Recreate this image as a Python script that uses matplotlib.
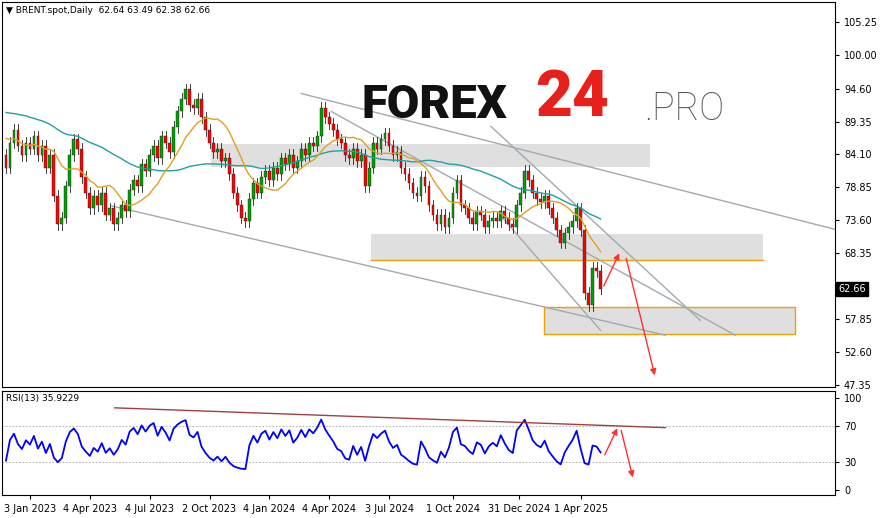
import numpy as np, pandas as pd
import matplotlib
matplotlib.use("Agg")
import matplotlib.pyplot as plt
from matplotlib.patches import Rectangle

prior_closes = [96,95,94,93,95,97,96,94,92,93,91,90,92,94,93,91,89,88,90,92,
 93,91,90,92,94,95,93,91,89,88,87,89,90,88,86,85,87,88,86,84]
closes = [82,86,88,85.5,84,86, 85,87,84,85.5,82,84, 77.5,73,74,79,84,86.5,
 85,80.5,78,75.5,77.5,76, 78,74.5,75.5,73,74,76, 75,78.5,80,79,82.5,81.5,
 84,85.5,83.5,87,86,84.5, 88.5,91,93,94.5,92,91.5, 93,90,88,86,84.5,85,
 83,83.5,81,78,76,74, 73.5,77,79.5,78,80.5,81.5, 80,82,81,83.5,82.5,84,
 82,83,85,84,86,85.5, 87,91.5,90,89,88,86.5, 86,84,83.5,85,83,84,
 79,82,86,85,86.5,87.5, 85.5,84,84.5,82,81,79.5, 78,77.5,80.5,79,76,74.5,
 73,74.5,72.5,74,78,80, 76,75.5,74,73,75,74.5, 72.5,73.5,74,73.5,75,74,
 73,72.5,76,78,81.5,80, 78,77,76.5,77.5,75.5,74, 72,70,71.5,72.5,73.5,75.5,
 72,62,60,66,65.5,62.66]
date_labels = ["3 Jan 2023","4 Apr 2023","4 Jul 2023","2 Oct 2023","4 Jan 2024",
 "4 Apr 2024","3 Jul 2024","1 Oct 2024","31 Dec 2024","1 Apr 2025"]
date_pos = [28,88,148,208,268,328,388,452,518,580]
price_ticks = [105.25,100.00,94.60,89.35,84.10,78.85,73.60,68.35,57.85,52.60,47.35]
last_price = 62.66
zones = [(210,650,82.1,85.7),(370,763,67.3,71.4),(543,795,55.4,59.7)]

def py(y): return 105.25-(y-20)/6.3
def ry(y): return 100-(y-397)/0.93

n0 = len(prior_closes)
x = np.arange(len(closes))*4+4
c = np.array(closes)
o = np.r_[prior_closes[-1], c[:-1]]
hi = np.maximum(o,c)+0.9; lo = np.minimum(o,c)-0.9
full = pd.Series(prior_closes+closes)
ma50 = full.rolling(12).mean().iloc[n0:].values
ma200 = full.rolling(46,min_periods=1).mean().iloc[n0:].values
d = full.diff().fillna(0)
up = d.clip(lower=0).ewm(alpha=1/4).mean(); dn = (-d.clip(upper=0)).ewm(alpha=1/4).mean()
rsi = (100-100/(1+up/(dn+1e-9))).iloc[n0:].values
rsi = 52+(rsi-50)*0.65

fig = plt.figure(figsize=(8.83,5.18),dpi=100)
W,H=883,518
ax = fig.add_axes([2/W,1-387/H,833/W,385/H])
ar = fig.add_axes([2/W,1-495/H,833/W,104/H])
for a in (ax,ar):
    a.set_xlim(0,835)
    a.yaxis.tick_right()
    a.tick_params(labelsize=7,length=3,direction='out')
    for sp in a.spines.values(): sp.set_linewidth(0.8)
ax.set_ylim(py(387),py(0))
ax.set_yticks(price_ticks); ax.set_yticklabels([f"{v:.2f}" for v in price_ticks])
ax.set_xticks([])
ar.set_ylim(ry(495),ry(390))
ar.set_yticks([100,70,30,0])
ar.set_xticks(date_pos); ar.set_xticklabels(date_labels)
for lv in (70,30): ar.axhline(lv,color='#aaaaaa',lw=0.6,ls=(0,(2,2)))

for x0,x1,y0,y1 in zones:
    ax.add_patch(Rectangle((x0,y0),x1-x0,y1-y0,fc='#dcdcdc',ec='none',alpha=0.9,zorder=1))
ax.plot([370,763],[67.3,67.3],color='#f0a000',lw=1,zorder=2)
ax.add_patch(Rectangle((543,55.4),252,4.3,fc='none',ec='#f0a000',lw=1,zorder=2))

tl = [((300,92),(880,240)),((330,110),(735,335)),((490,125),(700,320)),
      ((110,205),(665,335)),((500,215),(600,330))]
for (x0,y0),(x1,y1) in tl:
    ax.plot([x0,x1],[py(y0),py(y1)],color='#a0aab0',lw=1,zorder=2)

for i in range(len(c)):
    col = '#00a000' if c[i]>=o[i] else '#ff0000'
    ax.plot([x[i],x[i]],[lo[i],hi[i]],color='#222222',lw=0.6,zorder=3)
    ax.add_patch(Rectangle((x[i]-1.4,min(o[i],c[i])),2.8,max(abs(c[i]-o[i]),0.15),fc=col,ec='#222222',lw=0.3,zorder=4))
ax.plot(x,ma200,color='#20a0a0',lw=1,zorder=5)
ax.plot(x,ma50,color='#e0a020',lw=1,zorder=5)

arr = dict(arrowstyle='-|>',color='#ff3030',lw=1,mutation_scale=9)
ax.annotate('',xy=(620,py(250)),xytext=(602,py(288)),arrowprops=arr)
ax.annotate('',xy=(655,py(378)),xytext=(625,py(255)),arrowprops=arr)
ax.text(838,last_price,f"{last_price:.2f}",fontsize=7,color='white',va='center',ha='left',
        clip_on=False,bbox=dict(fc='black',ec='black',pad=1.5))

ar.plot(x,rsi,color='#0000ff',lw=1.3)
ar.plot([113,665],[ry(407),ry(427)],color='#a04040',lw=1)
ar.annotate('',xy=(618,ry(425)),xytext=(603,ry(457)),arrowprops=arr)
ar.annotate('',xy=(633,ry(480)),xytext=(620,ry(427)),arrowprops=arr)

ax.text(4,py(9),"▼ BRENT.spot,Daily  62.64 63.49 62.38 62.66",fontsize=6.5,va='center')
ar.text(4,ry(398),"RSI(13) 35.9229",fontsize=6.5,va='center')
fig.text(362/W,1-105/H,"FOREX",fontsize=34,fontweight='heavy',color='#111111',va='center',family='Roboto')
fig.text(535/W,1-98/H,"24",fontsize=46,fontweight='heavy',color='#e8201c',va='center',family='Roboto')
fig.text(644/W,1-109/H,".PRO",fontsize=27,fontweight='light',color='#555555',va='center',family='Roboto')
fig.savefig("out.png",dpi=100,facecolor='white')
